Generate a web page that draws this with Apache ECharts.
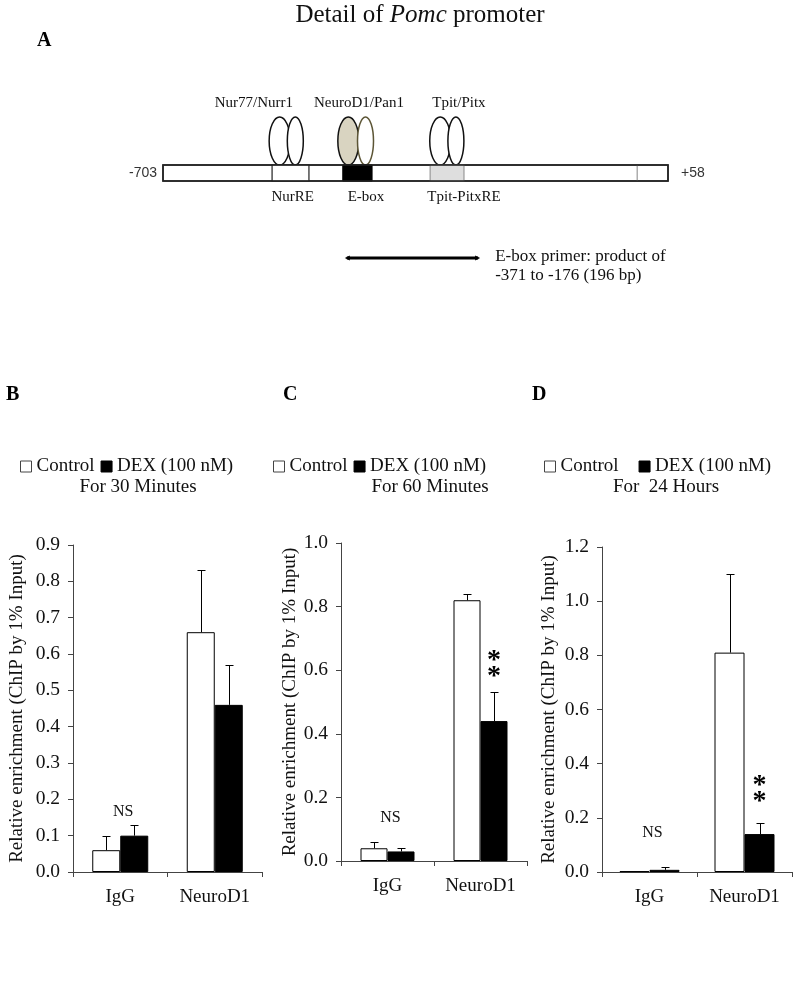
<!DOCTYPE html>
<html><head><meta charset="utf-8">
<script src="https://cdn.jsdelivr.net/npm/echarts@6/dist/echarts.min.js"></script>
<style>html,body{margin:0;padding:0;background:#fff}#c{width:794px;height:994px}</style>
</head><body><div id="c"></div>
<script>
// ---------- Data: bar charts ----------
const categories = ['IgG', 'NeuroD1'];
const seriesNames = ['Control', 'DEX (100 nM)'];
const panelTitles = ['For 30 Minutes', 'For 60 Minutes', 'For  24 Hours'];
const yMaxes = [0.9, 1.0, 1.2];
const ySteps = [0.1, 0.2, 0.2];

const control30 = [0.06, 0.66];
const control30Err = [0.04, 0.17];
const dex30 = [0.10, 0.46];
const dex30Err = [0.03, 0.11];

const control60 = [0.04, 0.82];
const control60Err = [0.02, 0.02];
const dex60 = [0.03, 0.44];
const dex60Err = [0.01, 0.09];

const control24 = [0.003, 0.81];
const control24Err = [0, 0.29];
const dex24 = [0.008, 0.14];
const dex24Err = [0.012, 0.04];

const nsLevels = [0.165, 0.135, 0.144];       // "NS" over IgG
const starLevels = [null, 0.605, 0.29];       // "**" over DEX NeuroD1

// ---------- Data: promoter schematic (position along drawing, 0-100) ----------
const promoterEnds = ['-703', '+58'];
const siteNames = ['NurRE', 'E-box', 'Tpit-PitxRE'];
const siteStart = [21.6, 35.6, 52.9];
const siteEnd = [28.9, 41.4, 59.6];
const siteLabelAt = [25.7, 40.2, 59.6];
const extraMarkAt = 93.9;
const factorNames = ['Nur77/Nurr1', 'NeuroD1/Pan1', 'Tpit/Pitx'];
const factorLeftAt = [23.1, 36.7, 54.9];
const factorRightAt = [26.2, 40.1, 58.0];
const factorLabelAt = [18.0, 38.8, 58.6];
const primerSpan = [36.0, 62.8];
const primerText = ['E-box primer: product of', '-371 to -176 (196 bp)'];

// ---------- Build ----------
const SERIF = 'Liberation Serif';
const SANS = 'Liberation Sans';
const chart = echarts.init(document.getElementById('c'), null, {renderer: 'canvas'});

const panels = [
  {grid: {left: 73, top: 545, width: 189, height: 327}, bw: 28, ctrl: control30, ctrlE: control30Err, dex: dex30, dexE: dex30Err, nameGap: 46, legendLeft: 20, legendGap: 6, titleX: 138},
  {grid: {left: 341, top: 543, width: 186, height: 318}, bw: 27, ctrl: control60, ctrlE: control60Err, dex: dex60, dexE: dex60Err, nameGap: 40, legendLeft: 273, legendGap: 6, titleX: 430},
  {grid: {left: 602, top: 547, width: 190, height: 325}, bw: 30, ctrl: control24, ctrlE: control24Err, dex: dex24, dexE: dex24Err, nameGap: 43, legendLeft: 544, legendGap: 20, titleX: 666}
];

const grids = [], xAxes = [], yAxes = [], series = [], legends = [], titles = [];

function errRender(sign, bw) {
  return function (params, api) {
    const cat = api.value(0), v = api.value(1), e = api.value(2);
    if (!(e > 0)) return null;
    const p0 = api.coord([cat, v]);
    const p1 = api.coord([cat, v + e]);
    const x = Math.round(p0[0] + sign * bw / 2) + 0.5;
    const y1 = Math.round(p1[1]) + 0.5;
    const st = {stroke: '#000', lineWidth: 1};
    return {type: 'group', children: [
      {type: 'line', shape: {x1: x, y1: p0[1], x2: x, y2: y1}, style: st},
      {type: 'line', shape: {x1: x - 4, y1: y1, x2: x + 4, y2: y1}, style: st}
    ]};
  };
}

panels.forEach((p, i) => {
  grids.push(p.grid);
  xAxes.push({
    gridIndex: i, type: 'category', data: categories,
    axisLine: {lineStyle: {color: '#444', width: 1}},
    axisTick: {show: true, length: 5, lineStyle: {color: '#444'}},
    axisLabel: {color: '#111', fontFamily: SERIF, fontSize: 19, margin: 16}
  });
  yAxes.push({
    gridIndex: i, type: 'value', min: 0, max: yMaxes[i], interval: ySteps[i],
    name: 'Relative enrichment (ChIP by 1% Input)', nameLocation: 'middle', nameGap: p.nameGap,
    nameTextStyle: {color: '#111', fontFamily: SERIF, fontSize: 19},
    axisLine: {show: true, lineStyle: {color: '#444', width: 1}},
    axisTick: {show: true, length: 5, lineStyle: {color: '#444'}},
    splitLine: {show: false},
    axisLabel: {color: '#111', fontFamily: SERIF, fontSize: 19.5, margin: 13, formatter: v => v.toFixed(1)}
  });
  series.push({
    type: 'bar', name: seriesNames[0], xAxisIndex: i, yAxisIndex: i, data: p.ctrl,
    barWidth: p.bw, barGap: '0%',
    itemStyle: {color: '#fff', borderColor: '#000', borderWidth: 1}
  });
  series.push({
    type: 'bar', name: seriesNames[1], xAxisIndex: i, yAxisIndex: i, data: p.dex,
    barWidth: p.bw, barGap: '0%',
    itemStyle: {color: '#000', borderColor: '#000', borderWidth: 1}
  });
  series.push({
    type: 'custom', xAxisIndex: i, yAxisIndex: i, silent: true, z: 5,
    data: categories.map((c, k) => [k, p.ctrl[k], p.ctrlE[k]]),
    renderItem: errRender(-1, p.bw)
  });
  series.push({
    type: 'custom', xAxisIndex: i, yAxisIndex: i, silent: true, z: 5,
    data: categories.map((c, k) => [k, p.dex[k], p.dexE[k]]),
    renderItem: errRender(1, p.bw)
  });
  // annotations
  const ann = [[0, nsLevels[i], 0]];
  if (starLevels[i] != null) ann.push([1, starLevels[i], 1]);
  series.push({
    type: 'custom', xAxisIndex: i, yAxisIndex: i, silent: true, z: 6,
    data: ann,
    renderItem: function (params, api) {
      const pt = api.coord([api.value(0), api.value(1)]);
      if (api.value(2) === 0) {
        return {type: 'text', x: pt[0] + 3, y: pt[1], style: {text: 'NS', fill: '#111', font: '16px "' + SERIF + '"', align: 'center', verticalAlign: 'middle'}};
      }
      const x = pt[0] + p.bw / 2;
      return {type: 'group', children: [
        {type: 'text', x: x, y: pt[1] - 8, style: {text: '*', fill: '#000', font: 'bold 28px "' + SERIF + '"', align: 'center', verticalAlign: 'middle'}},
        {type: 'text', x: x, y: pt[1] + 8, style: {text: '*', fill: '#000', font: 'bold 28px "' + SERIF + '"', align: 'center', verticalAlign: 'middle'}}
      ]};
    }
  });
  legends.push({
    left: p.legendLeft, top: 457, padding: 0, itemGap: p.legendGap,
    icon: 'rect', itemWidth: 11, itemHeight: 11, selectedMode: false,
    textStyle: {color: '#111', fontFamily: SERIF, fontSize: 19},
    data: [
      {name: seriesNames[0], itemStyle: {color: '#fff', borderColor: '#444', borderWidth: 1}},
      {name: seriesNames[1], itemStyle: {color: '#000', borderColor: '#000', borderWidth: 1}}
    ]
  });
  titles.push({
    text: panelTitles[i], left: p.titleX, textAlign: 'center', top: 478, padding: 0,
    textStyle: {color: '#111', fontFamily: SERIF, fontSize: 19, fontWeight: 'normal'}
  });
});

// panel letters and main title
titles.push({text: '{n|Detail of }{i|Pomc}{n| promoter}', left: 420, textAlign: 'center', top: 3, padding: 0,
  textStyle: {fontWeight: 'normal', rich: {
    n: {fontFamily: SERIF, fontSize: 25, fontWeight: 'normal', color: '#111'},
    i: {fontFamily: SERIF, fontSize: 25, fontWeight: 'normal', fontStyle: 'italic', color: '#111'}}}});
[['A', 37, 31], ['B', 6, 385], ['C', 283, 385], ['D', 532, 385]].forEach(t => {
  titles.push({text: t[0], left: t[1], top: t[2], padding: 0,
    textStyle: {fontFamily: SERIF, fontSize: 20, fontWeight: 'bold', color: '#000'}});
});

// schematic coordinate system
grids.push({left: 163, top: 165, width: 505, height: 16});
xAxes.push({gridIndex: 3, type: 'value', min: 0, max: 100, show: false});
yAxes.push({gridIndex: 3, type: 'value', min: -1, max: 1, show: false});
series.push({
  type: 'custom', xAxisIndex: 3, yAxisIndex: 3, silent: true, data: [[0, 0]],
  renderItem: function (params, api) {
    const X = v => api.coord([v, 0])[0];
    const cy = api.coord([0, 0])[1];
    const top = cy - 8, h = 16;
    const ch = [];
    const lblFont = '15px "' + SERIF + '"';
    // factor ellipses
    factorNames.forEach((n, k) => {
      const ecy = top - 24;
      const leftFill = k === 1 ? '#d9d4c1' : '#fff';
      const rightStroke = k === 1 ? '#5c5535' : '#111';
      ch.push({type: 'ellipse', shape: {cx: X(factorLeftAt[k]), cy: ecy, rx: 10.5, ry: 24}, style: {fill: leftFill, stroke: '#111', lineWidth: 1.5}});
      ch.push({type: 'ellipse', shape: {cx: X(factorRightAt[k]), cy: ecy, rx: 8, ry: 24}, style: {fill: '#fff', stroke: rightStroke, lineWidth: 1.5}});
      ch.push({type: 'text', x: X(factorLabelAt[k]), y: top - 62, style: {text: n, font: lblFont, fill: '#111', align: 'center', verticalAlign: 'middle'}});
    });
    // promoter bar
    ch.push({type: 'rect', shape: {x: X(0), y: top, width: X(100) - X(0), height: h}, style: {fill: '#fff', stroke: '#222', lineWidth: 1.5}});
    // sites
    siteNames.forEach((n, k) => {
      const x0 = X(siteStart[k]), x1 = X(siteEnd[k]);
      let st;
      if (k === 0) st = {fill: '#fff', stroke: '#222', lineWidth: 1.2};
      else if (k === 1) st = {fill: '#000', stroke: '#000', lineWidth: 1};
      else st = {fill: '#dedede', stroke: '#999', lineWidth: 1.2};
      ch.push({type: 'rect', shape: {x: x0, y: top, width: x1 - x0, height: h}, style: st});
      ch.push({type: 'text', x: X(siteLabelAt[k]), y: cy + 24, style: {text: n, font: lblFont, fill: '#111', align: 'center', verticalAlign: 'middle'}});
    });
    ch.push({type: 'line', shape: {x1: X(extraMarkAt), y1: top, x2: X(extraMarkAt), y2: top + h}, style: {stroke: '#999', lineWidth: 1.2}});
    // redraw outline on top
    ch.push({type: 'rect', shape: {x: X(0), y: top, width: X(100) - X(0), height: h}, style: {fill: null, stroke: '#222', lineWidth: 1.5}});
    // ends
    ch.push({type: 'text', x: X(0) - 6, y: cy, style: {text: promoterEnds[0], font: '14px "' + SANS + '"', fill: '#333', align: 'right', verticalAlign: 'middle'}});
    ch.push({type: 'text', x: X(100) + 13, y: cy, style: {text: promoterEnds[1], font: '14px "' + SANS + '"', fill: '#333', align: 'left', verticalAlign: 'middle'}});
    // primer
    const py = cy + 85, px0 = X(primerSpan[0]), px1 = X(primerSpan[1]);
    ch.push({type: 'line', shape: {x1: px0 + 2, y1: py, x2: px1 - 2, y2: py}, style: {stroke: '#000', lineWidth: 3}});
    ch.push({type: 'polygon', shape: {points: [[px0, py], [px0 + 5, py - 2.5], [px0 + 5, py + 2.5]]}, style: {fill: '#000'}});
    ch.push({type: 'polygon', shape: {points: [[px1, py], [px1 - 5, py - 2.5], [px1 - 5, py + 2.5]]}, style: {fill: '#000'}});
    ch.push({type: 'text', x: px1 + 15, y: py - 1, style: {text: primerText[0], font: '17px "' + SERIF + '"', fill: '#111', align: 'left', verticalAlign: 'middle'}});
    ch.push({type: 'text', x: px1 + 15, y: py + 18, style: {text: primerText[1], font: '17px "' + SERIF + '"', fill: '#111', align: 'left', verticalAlign: 'middle'}});
    return {type: 'group', children: ch};
  }
});

chart.setOption({
  animation: false,
  backgroundColor: '#fff',
  title: titles,
  legend: legends,
  grid: grids,
  xAxis: xAxes,
  yAxis: yAxes,
  series: series
});
</script>
</body></html>
